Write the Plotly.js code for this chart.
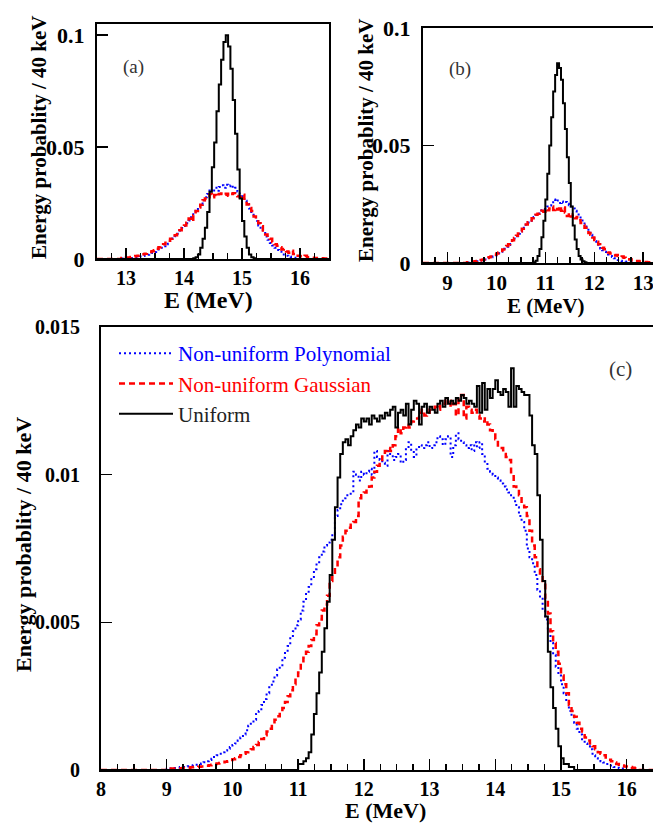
<!DOCTYPE html>
<html>
<head>
<meta charset="utf-8">
<script src="https://cdn.plot.ly/plotly-3.0.1.min.js"></script>
<style>html,body{margin:0;padding:0;background:#fff;}#chart{width:653px;height:826px;}</style>
</head>
<body>
<div id="chart"></div>
<script>
// ---------------- DATA (energy probability per 40 keV bin) ----------------
const binWidth = 0.04; // MeV

// Panel (a)
const aRange = [12.5, 16.5];
const aUniformStart = 14.16;
const aUniform = [0.0003,0.0008,0.002,0.005,0.009,0.014,0.021,0.030,0.041,0.052,
  0.066,0.078,0.089,0.097,0.100,0.095,0.085,0.071,0.056,0.040,
  0.027,0.017,0.010,0.005,0.002,0.0008,0.0003];
const aGaussStart = 12.92;
const aGauss = [0.0004,0.0005,0.0006,0.0007,0.0009,0.0011,0.0013,0.0015,0.0018,0.0021,
  0.0024,0.0028,0.0031,0.0035,0.0039,0.0046,0.0052,0.0058,0.0066,0.0073,
  0.0082,0.0090,0.0098,0.0106,0.0117,0.0128,0.0138,0.0150,0.0162,0.0181,
  0.0168,0.0196,0.0214,0.0230,0.0242,0.0262,0.0270,0.0276,0.0290,0.0276,
  0.0286,0.0280,0.0290,0.0293,0.0287,0.0291,0.0283,0.0290,0.0294,0.0281,
  0.0280,0.0276,0.0287,0.0262,0.0244,0.0228,0.0214,0.0190,0.0180,0.0160,
  0.0146,0.0127,0.0110,0.0098,0.0090,0.0076,0.0066,0.0059,0.0052,0.0042,
  0.0045,0.0034,0.0028,0.0037,0.0022,0.0024,0.0015,0.0012,0.0010,0.0014,
  0.0008,0.0006,0.0006,0.0004,0.0005,0.0003,0.0003,0.0002,0.0002];
const aPolyStart = 12.92;
const aPoly = [0.0002,0.0002,0.0003,0.0004,0.0005,0.0006,0.0007,0.0008,0.0011,0.0013,
  0.0016,0.0019,0.0023,0.0027,0.0031,0.0036,0.0042,0.0050,0.0057,0.0066,
  0.0074,0.0082,0.0092,0.0102,0.0113,0.0126,0.0138,0.0148,0.0160,0.0172,
  0.0186,0.0200,0.0216,0.0232,0.0244,0.0262,0.0276,0.0290,0.0312,0.0300,
  0.0318,0.0305,0.0322,0.0330,0.0318,0.0332,0.0325,0.0330,0.0315,0.0318,
  0.0300,0.0290,0.0276,0.0260,0.0246,0.0226,0.0205,0.0186,0.0170,0.0150,
  0.0132,0.0116,0.0100,0.0086,0.0072,0.0060,0.0050,0.0040,0.0033,0.0026,
  0.0020,0.0015,0.0011,0.0008,0.0006,0.0004,0.0003,0.0002];

// Panel (b)
const bRange = [8.5, 13.2];
const bUniformStart = 10.76;
const bUniform = [0.0003,0.001,0.003,0.006,0.011,0.018,0.027,0.038,0.050,0.062,
  0.073,0.080,0.085,0.083,0.078,0.068,0.057,0.045,0.034,0.024,
  0.016,0.010,0.006,0.003,0.0015,0.0007,0.0003];
const bGaussStart = 9.40;
const bGauss = [0.0003,0.0004,0.0005,0.0006,0.0007,0.0009,0.0011,0.0013,0.0015,0.0018,
  0.0021,0.0024,0.0028,0.0031,0.0035,0.0040,0.0045,0.0051,0.0057,0.0064,
  0.0072,0.0080,0.0088,0.0097,0.0106,0.0116,0.0125,0.0135,0.0146,0.0155,
  0.0164,0.0173,0.0181,0.0190,0.0197,0.0205,0.0210,0.0216,0.0222,0.0218,
  0.0228,0.0224,0.0232,0.0240,0.0226,0.0236,0.0228,0.0242,0.0222,0.0236,
  0.0215,0.0200,0.0212,0.0198,0.0206,0.0190,0.0196,0.0182,0.0170,0.0162,
  0.0150,0.0140,0.0128,0.0120,0.0108,0.0098,0.0090,0.0080,0.0074,0.0065,
  0.0058,0.0050,0.0045,0.0040,0.0036,0.0032,0.0034,0.0030,0.0026,0.0028,
  0.0022,0.0018,0.0015,0.0016,0.0012,0.0010,0.0008,0.0009,0.0006,0.0005,
  0.0004,0.0004,0.0003,0.0002];
const bPolyStart = 9.40;
const bPoly = [0.0002,0.0002,0.0003,0.0004,0.0005,0.0007,0.0009,0.0011,0.0013,0.0015,
  0.0018,0.0021,0.0024,0.0028,0.0032,0.0037,0.0042,0.0048,0.0054,0.0061,
  0.0069,0.0077,0.0086,0.0095,0.0104,0.0114,0.0124,0.0134,0.0144,0.0154,
  0.0163,0.0172,0.0180,0.0188,0.0196,0.0204,0.0211,0.0218,0.0224,0.0230,
  0.0235,0.0240,0.0245,0.0252,0.0270,0.0262,0.0266,0.0255,0.0262,0.0256,
  0.0260,0.0252,0.0246,0.0240,0.0232,0.0222,0.0212,0.0200,0.0188,0.0175,
  0.0162,0.0148,0.0134,0.0120,0.0106,0.0094,0.0082,0.0072,0.0062,0.0054,
  0.0048,0.0042,0.0036,0.0030,0.0025,0.0020,0.0016,0.0013,0.0010,0.0008,
  0.0006,0.0005,0.0004,0.0003,0.0002];

// Panel (c)
const cRange = [8, 16.4];
const cUniformStart = 11.00;
const cUniform = [0.0002,0.0002,0.0003,0.0004,0.0006,0.0012,0.0019,0.0026,0.0033,0.0040,
  0.0048,0.0057,0.0066,0.0078,0.0089,0.0099,0.0107,0.0111,0.0112,0.0110,
  0.0113,0.0115,0.0117,0.0116,0.0119,0.0118,0.0119,0.0117,0.0120,0.0119,
  0.0118,0.0120,0.0119,0.0121,0.0120,0.0122,0.0123,0.0116,0.0121,0.0122,
  0.0120,0.0124,0.0117,0.0122,0.0125,0.0124,0.0117,0.0123,0.0124,0.0121,
  0.0123,0.0122,0.0121,0.0124,0.0125,0.0123,0.0126,0.0124,0.0125,0.0124,
  0.0126,0.0125,0.0127,0.0126,0.0124,0.0125,0.0124,0.0123,0.0130,0.0121,
  0.0131,0.0122,0.0129,0.0126,0.0129,0.0132,0.0128,0.0127,0.0129,0.0128,
  0.0123,0.0136,0.0123,0.0130,0.0129,0.0128,0.0127,0.0127,0.0120,0.0110,
  0.0107,0.0093,0.0078,0.0064,0.0052,0.0040,0.0028,0.0021,0.0014,0.0008,
  0.0004,0.0002,0.0002,0.0001,0.0001];
const cGaussStart = 9.00;
const cGauss = [0.00005,0.00005,0.00005,0.00005,0.00006,0.00006,0.00007,0.00007,0.00008,0.00009,
  0.0001,0.0001,0.00011,0.00012,0.00013,0.00014,0.00016,0.00018,0.0002,0.00022,
  0.00024,0.00026,0.00028,0.0003,0.00034,0.00036,0.0004,0.00044,0.0005,0.00055,
  0.0006,0.00066,0.0007,0.00078,0.00085,0.00095,0.00105,0.00118,0.0013,0.0014,
  0.00155,0.0017,0.00182,0.00195,0.0021,0.0023,0.0025,0.0027,0.0029,0.0031,
  0.0033,0.0036,0.0038,0.0040,0.0042,0.0044,0.0046,0.0049,0.0051,0.0054,
  0.0056,0.0059,0.0064,0.0066,0.0068,0.0072,0.0076,0.0079,0.0081,0.0082,
  0.0083,0.0084,0.0086,0.0092,0.0093,0.0094,0.0095,0.0096,0.0099,0.0101,
  0.0103,0.0105,0.0107,0.0108,0.0109,0.0108,0.0110,0.0113,0.0116,0.0114,
  0.0116,0.0117,0.0116,0.0118,0.0119,0.0119,0.0121,0.0122,0.0120,0.0121,
  0.0122,0.0122,0.0123,0.0122,0.0124,0.0124,0.0125,0.0125,0.0123,0.0124,
  0.0120,0.0126,0.0127,0.0119,0.0123,0.0122,0.0121,0.0122,0.0120,0.0119,
  0.0118,0.0119,0.0117,0.0115,0.0114,0.0112,0.0109,0.0109,0.0107,0.0106,
  0.0105,0.0100,0.0096,0.0095,0.0093,0.0090,0.0089,0.0086,0.0081,0.0076,
  0.0072,0.0068,0.0066,0.0064,0.0058,0.0053,0.0047,0.0043,0.0040,0.0036,
  0.0032,0.0029,0.0026,0.0022,0.0020,0.0018,0.0016,0.0014,0.0013,0.0011,
  0.0010,0.0009,0.0008,0.0007,0.0006,0.00055,0.0005,0.00042,0.00035,0.0003,
  0.00025,0.0002,0.00018,0.00015,0.00012,0.0001,0.0001,0.00008,0.00006,0.00005];
const cPolyStart = 9.00;
const cPoly = [0.00004,0.00005,0.00006,0.00007,0.00008,0.0001,0.0001,0.00012,0.00013,0.00015,
  0.00016,0.00018,0.0002,0.00022,0.00026,0.0003,0.00034,0.00038,0.00044,0.0005,
  0.00055,0.0006,0.00066,0.00072,0.00078,0.00085,0.0009,0.001,0.0011,0.0012,
  0.00135,0.0015,0.0016,0.0017,0.0019,0.002,0.0022,0.0024,0.0026,0.0028,
  0.003,0.0032,0.0034,0.0035,0.0038,0.004,0.0042,0.0045,0.0047,0.0049,
  0.0051,0.0054,0.0057,0.006,0.0062,0.0065,0.0068,0.007,0.0072,0.0074,
  0.0076,0.0077,0.0078,0.008,0.0086,0.0088,0.009,0.0092,0.0093,0.0093,
  0.0094,0.0101,0.0100,0.0098,0.0101,0.0100,0.0101,0.0102,0.0100,0.0108,
  0.0106,0.0105,0.0104,0.0103,0.0108,0.0107,0.0105,0.0106,0.0107,0.0104,
  0.0105,0.0109,0.0111,0.0108,0.0106,0.0109,0.0110,0.0109,0.0110,0.0111,
  0.0109,0.0110,0.0111,0.0113,0.0112,0.0110,0.0112,0.0113,0.0106,0.0110,
  0.0114,0.0112,0.0111,0.0110,0.0109,0.0110,0.0108,0.0111,0.0109,0.0111,
  0.0107,0.0104,0.0102,0.0101,0.0100,0.0099,0.0098,0.0097,0.0096,0.0095,
  0.0094,0.0093,0.0091,0.0089,0.0086,0.0084,0.0081,0.0075,0.0072,0.0070,
  0.0066,0.0061,0.0058,0.0054,0.0051,0.0047,0.0043,0.0039,0.0035,0.0032,
  0.0029,0.0026,0.0023,0.002,0.0018,0.0016,0.0014,0.0012,0.001,0.0009,
  0.0008,0.0007,0.0005,0.0004,0.00035,0.0003,0.00025,0.0002,0.00015,0.00012,
  0.0001,0.00008,0.00006,0.00005];

const seriesNames = ['Non-uniform Polynomial', 'Non-uniform Gaussian', 'Uniform'];
const yTitle = 'Energy probablity / 40 keV';
const xTitle = 'E (MeV)';
const panelLabels = ['(a)', '(b)', '(c)'];

// ---------------- BUILD ----------------
function steps(start, vals, range) {
  const x = [range[0]], y = [0];
  for (let i = 0; i < vals.length; i++) { x.push(+(start + i * binWidth).toFixed(3)); y.push(vals[i]); }
  x.push(+(start + vals.length * binWidth).toFixed(3)); y.push(0);
  x.push(range[1]); y.push(0);
  return {x, y};
}
const BLUE = '#0000ff', RED = '#ff0000', BLACK = '#000000';
const styles = [
  {color: BLUE, width: 2, dash: '2px,3px'},
  {color: RED, width: 2.5, dash: '6px,4px'},
  {color: BLACK, width: 2, dash: 'solid'}
];
const legendNames = [
  '<span style="color:#0000ff">' + seriesNames[0] + '</span>',
  '<span style="color:#ff0000">' + seriesNames[1] + '</span>',
  '<span style="color:#222222">' + seriesNames[2] + '</span>'
];

const panels = [
  {ax: '', range: aRange, sets: [[aPolyStart, aPoly], [aGaussStart, aGauss], [aUniformStart, aUniform]]},
  {ax: '2', range: bRange, sets: [[bPolyStart, bPoly], [bGaussStart, bGauss], [bUniformStart, bUniform]]},
  {ax: '3', range: cRange, sets: [[cPolyStart, cPoly], [cGaussStart, cGauss], [cUniformStart, cUniform]]}
];
const traces = [];
panels.forEach((p, pi) => {
  p.sets.forEach((s, si) => {
    const d = steps(s[0], s[1], p.range);
    traces.push({
      type: 'scatter', mode: 'lines', x: d.x, y: d.y,
      xaxis: 'x' + p.ax, yaxis: 'y' + p.ax,
      line: {shape: 'hv', color: styles[si].color, width: styles[si].width, dash: styles[si].dash},
      name: legendNames[si], showlegend: pi === 2, hoverinfo: 'skip'
    });
  });
});

const W = 653, H = 826;
const SERIF = 'Liberation Serif';
function px(v) { return v / W; }
function py(v) { return 1 - v / H; }
function xax(domain, range, tickSize, standoff) {
  return {
    domain: domain, range: range, dtick: 1, tick0: 0,
    showgrid: false, zeroline: false, showline: true, linecolor: BLACK, linewidth: 2,
    mirror: true, ticks: 'inside', ticklen: 11, tickwidth: 1.5, tickcolor: BLACK,
    ticklabelstandoff: standoff, ticklabeloverflow: 'allow',
    minor: {dtick: 0.25, tick0: 0, ticks: 'inside', ticklen: 6, tickwidth: 1.5, tickcolor: BLACK, showgrid: false},
    tickfont: {family: SERIF, size: tickSize, color: BLACK, weight: 700}, fixedrange: true
  };
}
function yax(domain, range, dtick, tickSize, mirror, xa, standoff) {
  return {
    domain: domain, range: range, dtick: dtick, tick0: 0, anchor: xa,
    showgrid: false, zeroline: false, showline: true, linecolor: BLACK, linewidth: 2,
    mirror: mirror, ticks: 'inside', ticklen: 11, tickwidth: 1.5, tickcolor: BLACK,
    ticklabelstandoff: standoff, ticklabeloverflow: 'allow',
    tickfont: {family: SERIF, size: tickSize, color: BLACK, weight: 700}, fixedrange: true
  };
}

const layout = {
  width: W, height: H, margin: {l: 0, r: 0, t: 0, b: 0},
  paper_bgcolor: '#ffffff', plot_bgcolor: '#ffffff', showlegend: true,
  xaxis: Object.assign(xax([px(97), px(329)], aRange, 20, 0), {anchor: 'y'}),
  yaxis: yax([py(259), py(24)], [0, 0.105], 0.05, 22, true, 'x', 6),
  xaxis2: Object.assign(xax([px(423), 1], bRange, 21, 0), {anchor: 'y2'}),
  yaxis2: yax([py(263), py(28)], [0, 0.1], 0.05, 22, false, 'x2', 6),
  xaxis3: Object.assign(xax([px(101), 1], cRange, 20, 0), {anchor: 'y3'}),
  yaxis3: yax([py(770), py(327)], [0, 0.015], 0.005, 20, false, 'x3', 15),
  legend: {x: px(114), y: py(333), xanchor: 'left', yanchor: 'top', bgcolor: 'rgba(0,0,0,0)',
    font: {family: SERIF, size: 21, color: '#222'}, traceorder: 'normal', tracegroupgap: 0, itemwidth: 54},
  annotations: [
    {text: yTitle, x: px(39), y: py(138), textangle: -90, size: 21},
    {text: yTitle, x: px(366), y: py(141), textangle: -90, size: 21},
    {text: yTitle, x: px(23), y: py(545), textangle: -90, size: 22},
    {text: xTitle, x: px(208), y: py(300), size: 24},
    {text: xTitle, x: px(546), y: py(306), size: 21},
    {text: xTitle, x: px(386), y: py(810), size: 22},
    {text: panelLabels[0], x: px(133), y: py(67), size: 19, weight: 400, color: '#333'},
    {text: panelLabels[1], x: px(460), y: py(69), size: 19, weight: 400, color: '#333'},
    {text: panelLabels[2], x: px(620), y: py(369), size: 21, weight: 400, color: '#333'}
  ].map(a => ({
    text: a.text, x: a.x, y: a.y, xref: 'paper', yref: 'paper', xanchor: 'center', yanchor: 'middle',
    showarrow: false, textangle: a.textangle || 0,
    font: {family: SERIF, size: a.size || 21, color: a.color || BLACK, weight: a.weight || 700}
  }))
};

Plotly.newPlot('chart', traces, layout, {staticPlot: true, displayModeBar: false});
</script>
</body>
</html>
